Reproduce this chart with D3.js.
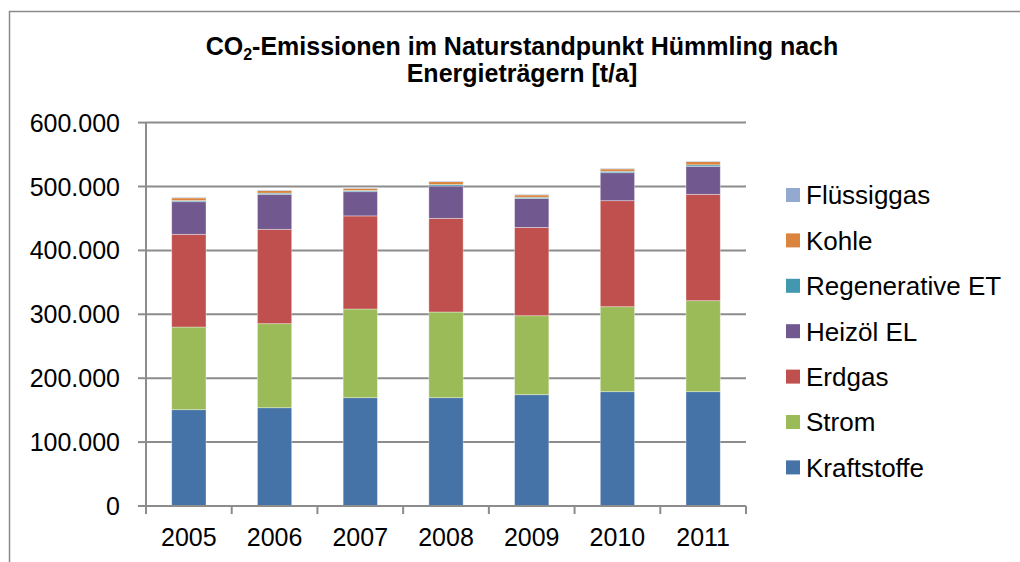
<!DOCTYPE html>
<html>
<head>
<meta charset="utf-8">
<script src="https://cdn.jsdelivr.net/npm/d3@7"></script>
<style>
  body { margin: 0; background: white; overflow: hidden; }
  svg { display: block; }
  text { font-family: "Liberation Sans", Arial, sans-serif; fill: black; }
</style>
</head>
<body>
<svg id="chart" width="1020" height="562"></svg>
<script>
// values in t/a
var years = ["2005", "2006", "2007", "2008", "2009", "2010", "2011"];
var kraftstoffe = [150700, 153800, 169500, 169500, 174200, 178900, 178900];
var strom       = [129400, 131500, 138800, 134100, 123600, 133000, 142400];
var erdgas      = [145100, 147700, 145700, 146600, 138200, 165900, 166500];
var heizoel     = [51000, 54800, 37900, 50600, 45100, 43800, 43800];
var regenerativ = [1800, 1800, 1800, 2200, 2000, 2200, 2300];
var kohle       = [4200, 4000, 3500, 4600, 3700, 3700, 5000];
var fluessiggas = [1000, 1000, 800, 1000, 1000, 1000, 1000];
var yTicks = [0, 100000, 200000, 300000, 400000, 500000, 600000];

var seriesNames = ["Kraftstoffe", "Strom", "Erdgas", "Heizöl EL", "Regenerative ET", "Kohle", "Flüssiggas"];
var seriesValues = [kraftstoffe, strom, erdgas, heizoel, regenerativ, kohle, fluessiggas];
var colors = ["#4572A7", "#9BBB59", "#C0504D", "#71588F", "#4198AF", "#DB843D", "#93A9CF"];

var svg = d3.select("#chart");
var plotLeft = 146, plotRight = 746, plotTop = 122.6, plotBottom = 506;

var x = d3.scaleBand().domain(years).range([plotLeft, plotRight]).paddingInner(0.6).paddingOuter(0.3);
var y = d3.scaleLinear().domain([0, 600000]).range([plotBottom, plotTop]);
var de = d3.formatLocale({decimal: ",", thousands: ".", grouping: [3], currency: ["", " €"]});
var fmt = de.format(",");

// outer frame of the chart (cut off at right and bottom)
svg.append("rect")
  .attr("x", 9.5).attr("y", 11.5).attr("width", 1100).attr("height", 700)
  .attr("fill", "none").attr("stroke", "#8a8a8a").attr("stroke-width", 1.5);

// title
var title = svg.append("text")
  .attr("text-anchor", "middle")
  .style("font-weight", "bold").style("font-size", "25px");
title.append("tspan").attr("x", 522).attr("y", 55).text("CO");
title.append("tspan").attr("dy", 5).style("font-size", "16px").text("2");
title.append("tspan").attr("dy", -5).text("-Emissionen im Naturstandpunkt Hümmling nach");
svg.append("text")
  .attr("x", 522).attr("y", 82)
  .attr("text-anchor", "middle")
  .style("font-weight", "bold").style("font-size", "25px")
  .text("Energieträgern [t/a]");

// gridlines
svg.append("g").selectAll("line")
  .data(yTicks.slice(1))
  .enter().append("line")
  .attr("x1", plotLeft).attr("x2", plotRight)
  .attr("y1", function(d) { return y(d); })
  .attr("y2", function(d) { return y(d); })
  .attr("stroke", "#8c8c8c").attr("stroke-width", 2);

// stacked bars
var table = years.map(function(yr, i) {
  var row = {year: yr};
  seriesNames.forEach(function(s, j) { row[s] = seriesValues[j][i]; });
  return row;
});
var stack = d3.stack().keys(seriesNames)(table);

svg.append("g").selectAll("g")
  .data(stack)
  .enter().append("g")
  .attr("fill", function(d, i) { return colors[i]; })
  .selectAll("rect")
  .data(function(d) { return d; })
  .enter().append("rect")
  .attr("x", function(d) { return x(d.data.year); })
  .attr("width", x.bandwidth())
  .attr("y", function(d) { return y(d[1]); })
  .attr("height", function(d) { return y(d[0]) - y(d[1]); })
  .attr("stroke", "rgba(255,255,255,0.45)").attr("stroke-width", 0.8);

// y axis
svg.append("line")
  .attr("x1", plotLeft).attr("x2", plotLeft).attr("y1", plotTop).attr("y2", plotBottom)
  .attr("stroke", "#8c8c8c").attr("stroke-width", 2);
svg.append("g").selectAll("line")
  .data(yTicks)
  .enter().append("line")
  .attr("x1", plotLeft - 8).attr("x2", plotLeft)
  .attr("y1", function(d) { return y(d); })
  .attr("y2", function(d) { return y(d); })
  .attr("stroke", "#8c8c8c").attr("stroke-width", 2);
svg.append("g").selectAll("text")
  .data(yTicks)
  .enter().append("text")
  .attr("x", 120)
  .attr("y", function(d) { return y(d); })
  .attr("dy", "0.36em")
  .attr("text-anchor", "end")
  .style("font-size", "25px")
  .text(function(d) { return fmt(d); });

// x axis
svg.append("line")
  .attr("x1", plotLeft).attr("x2", plotRight).attr("y1", plotBottom).attr("y2", plotBottom)
  .attr("stroke", "#8c8c8c").attr("stroke-width", 2);
var bounds = years.map(function(d) { return x(d) + x.bandwidth() / 2 - x.step() / 2; });
bounds.push(plotRight);
svg.append("g").selectAll("line")
  .data(bounds)
  .enter().append("line")
  .attr("x1", function(d) { return d; }).attr("x2", function(d) { return d; })
  .attr("y1", plotBottom).attr("y2", plotBottom + 8)
  .attr("stroke", "#8c8c8c").attr("stroke-width", 2);
svg.append("g").selectAll("text")
  .data(years)
  .enter().append("text")
  .attr("x", function(d) { return x(d) + x.bandwidth() / 2; })
  .attr("y", 546)
  .attr("text-anchor", "middle")
  .style("font-size", "25px")
  .text(function(d) { return d; });

// legend, top entry is the last series
var legend = svg.append("g").selectAll("g")
  .data(seriesNames.slice().reverse())
  .enter().append("g")
  .attr("transform", function(d, i) { return "translate(786," + (195 + i * 45.4) + ")"; });
legend.append("rect")
  .attr("x", 0).attr("y", -7).attr("width", 14).attr("height", 14)
  .attr("fill", function(d) { return colors[seriesNames.indexOf(d)]; });
legend.append("text")
  .attr("x", 20).attr("dy", "0.36em")
  .style("font-size", "26px")
  .text(function(d) { return d; });
</script>
</body>
</html>
